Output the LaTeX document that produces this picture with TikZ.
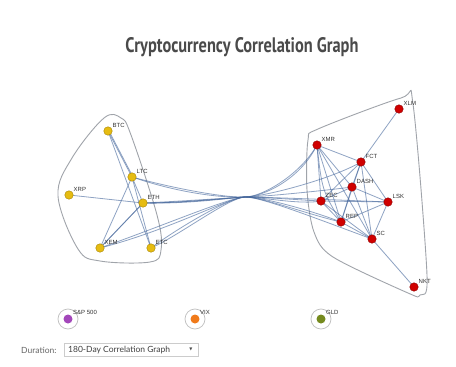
\documentclass[tikz,border=0pt]{standalone}
\usepackage{fontspec}
\setmainfont{Liberation Sans}
\newfontfamily\titlefont[FakeStretch=0.78]{PT Sans Bold}
\newfontfamily\uifont{Lato}
\newfontfamily\symfont{DejaVu Sans}
\definecolor{ygold}{HTML}{E6BC12}
\definecolor{ygoldd}{HTML}{A88400}
\definecolor{rred}{HTML}{D00000}
\definecolor{rredd}{HTML}{8E0000}
\definecolor{edgeb}{HTML}{45679C}
\definecolor{hullg}{HTML}{A0A4AA}
\definecolor{titleg}{HTML}{4A4A4A}
\definecolor{spc}{HTML}{A347BA}
\definecolor{vixc}{HTML}{F07A1A}
\definecolor{gldc}{HTML}{758A1E}
\tikzset{
  ynode/.style={circle,fill=ygold,draw=ygoldd,line width=0.4pt,minimum size=8.5pt,inner sep=0pt},
  rnode/.style={circle,fill=rred,draw=rredd,line width=0.4pt,minimum size=8.5pt,inner sep=0pt},
  lbl/.style={font=\fontsize{6}{6}\selectfont,text=black!80,inner sep=0pt,anchor=south west},
  edge/.style={draw=edgeb,opacity=0.6,line width=0.8pt},
  xedge/.style={draw=edgeb,opacity=0.6,line width=0.8pt},
  hull/.style={draw=hullg,line width=0.9pt},
  ring/.style={circle,draw=black!25,line width=0.7pt,fill=white,minimum size=20pt,inner sep=0pt},
  dot/.style={circle,minimum size=9pt,inner sep=0pt}
}
\begin{document}
\begin{tikzpicture}[x=1pt,y=-1pt]
\useasboundingbox[fill=white] (0,0) rectangle (456,367);
\node[font=\titlefont\fontsize{21}{21}\selectfont,text=titleg] (title) at (242,47) {Cryptocurrency Correlation Graph};

% hulls
\draw[hull] plot[smooth cycle,tension=0.6] coordinates {(104,118) (121,118) (131,135) (157,215) (161,250) (150,262) (100,261) (78,249) (58,196) (72,158)};
\draw[hull] plot[smooth cycle,tension=0.5] coordinates {(401,98) (413,104) (427,275) (420,295) (408,293) (333,257) (314,232) (307,190) (308,140) (318,129)};

% coordinates
\coordinate (hl) at (228,198);
\coordinate (hr) at (262,197);

% left nodes positions
\coordinate (pBTC) at (108,131);
\coordinate (pLTC) at (132,177);
\coordinate (pXRP) at (69,195);
\coordinate (pETH) at (143,203);
\coordinate (pXEM) at (100,248);
\coordinate (pETC) at (151,248);
% right
\coordinate (pXLM) at (399,109);
\coordinate (pXMR) at (317,145);
\coordinate (pFCT) at (361,162);
\coordinate (pDASH) at (352,187);
\coordinate (pZEC) at (321,201);
\coordinate (pLSK) at (388,202);
\coordinate (pREP) at (341,222);
\coordinate (pSC) at (372,239);
\coordinate (pNKT) at (414,287);

% left internal edges
\draw[edge] (pBTC) -- (pLTC);
\draw[edge] ([xshift=1pt]pBTC) -- ([xshift=1pt]pLTC);
\draw[edge] (pBTC) -- (pETC);
\draw[edge] (pLTC) -- (pETC);
\draw[edge] (pLTC) -- (pXEM);
\draw[edge] (pETH) -- (pXEM);
\draw[edge] (pETH) .. controls (125,222) .. (pXEM);
\draw[edge] (pLTC) -- (pETH);

% cross edges through hub
\draw[xedge] (pLTC) .. controls (180,190) and (hl) .. (245,197) .. controls (hr) and (300,175) .. (pXMR);
\draw[xedge] (pLTC) .. controls (185,195) and (hl) .. (245,197) .. controls (hr) and (310,215) .. (pREP);
\draw[xedge] (pXRP) -- (pETH) .. controls (180,203) and (hl) .. (245,197) .. controls (hr) and (330,180) .. (pFCT);
\draw[xedge] (pETH) .. controls (185,203) and (hl) .. (245,197) .. controls (hr) and (300,200) .. (pZEC);
\draw[xedge] (pETH) .. controls (185,201) and (hl) .. (245,197) .. controls (hr) and (330,190) .. (pDASH);
\draw[xedge] (pETH) .. controls (190,204) and (hl) .. (245,197) .. controls (hr) and (340,200) .. (pLSK);
\draw[xedge] (pXEM) .. controls (170,230) and (hl) .. (245,197) .. controls (hr) and (300,205) .. (pZEC);
\draw[xedge] (pXEM) .. controls (165,225) and (hl) .. (245,197) .. controls (hr) and (310,210) .. (pREP);
\draw[xedge] (pETC) .. controls (180,235) and (hl) .. (245,197) .. controls (hr) and (320,220) .. (pSC);
\draw[xedge] (pETC) .. controls (175,230) and (hl) .. (245,197) .. controls (hr) and (300,180) .. (pXMR);

% right internal edges
\foreach \a/\b in {XMR/FCT,XMR/DASH,XMR/ZEC,XMR/REP,XMR/SC,FCT/DASH,FCT/ZEC,FCT/REP,FCT/SC,FCT/LSK,XLM/FCT,DASH/ZEC,DASH/LSK,DASH/REP,DASH/SC,ZEC/LSK,ZEC/REP,ZEC/SC,REP/LSK,REP/SC,LSK/SC,SC/NKT}
  \draw[edge] (p\a) -- (p\b);
\draw[edge] (pXMR) .. controls (322,190) .. (pREP);

% nodes
\foreach \n in {BTC,LTC,XRP,ETH,XEM,ETC}
  \node[ynode] (\n) at (p\n) {};
\foreach \n in {XLM,XMR,FCT,DASH,ZEC,LSK,REP,SC,NKT}
  \node[rnode] (\n) at (p\n) {};
\foreach \n in {BTC,LTC,XRP,ETH,XEM,ETC,XLM,XMR,FCT,DASH,ZEC,LSK,REP,SC,NKT}
  \node[lbl] (l\n) at ([xshift=4.5pt,yshift=3pt]\n.center) {\n};

% bottom
\node[ring] (rSP) at (68,319) {};
\node[dot,fill=spc] (SP) at (68,319) {};
\node[lbl] (lSP) at (73,315) {S\&P 500};
\node[ring] (rVIX) at (195,319) {};
\node[dot,fill=vixc] (VIX) at (195,319) {};
\node[lbl] (lVIX) at (200,315) {VIX};
\node[ring] (rGLD) at (321,319) {};
\node[dot,fill=gldc] (GLD) at (321,319) {};
\node[lbl] (lGLD) at (326,315) {GLD};

\node[font=\uifont\fontsize{8.5}{9}\selectfont,text=black!60,anchor=west,inner sep=0pt] (dur) at (21,350) {Duration:};
\node[draw=black!20,line width=0.4pt,minimum width=134pt,minimum height=13pt,anchor=west,inner sep=0pt] (sel) at (64,350) {};
\node[font=\uifont\fontsize{8.5}{9}\selectfont,text=black!75,anchor=west,inner sep=0pt] (seltxt) at (68,350) {180-Day Correlation Graph};
\node[font=\symfont\fontsize{4}{4}\selectfont,text=black!70,inner sep=0pt] (arr) at (191,349) {▼};
\end{tikzpicture}
\end{document}
